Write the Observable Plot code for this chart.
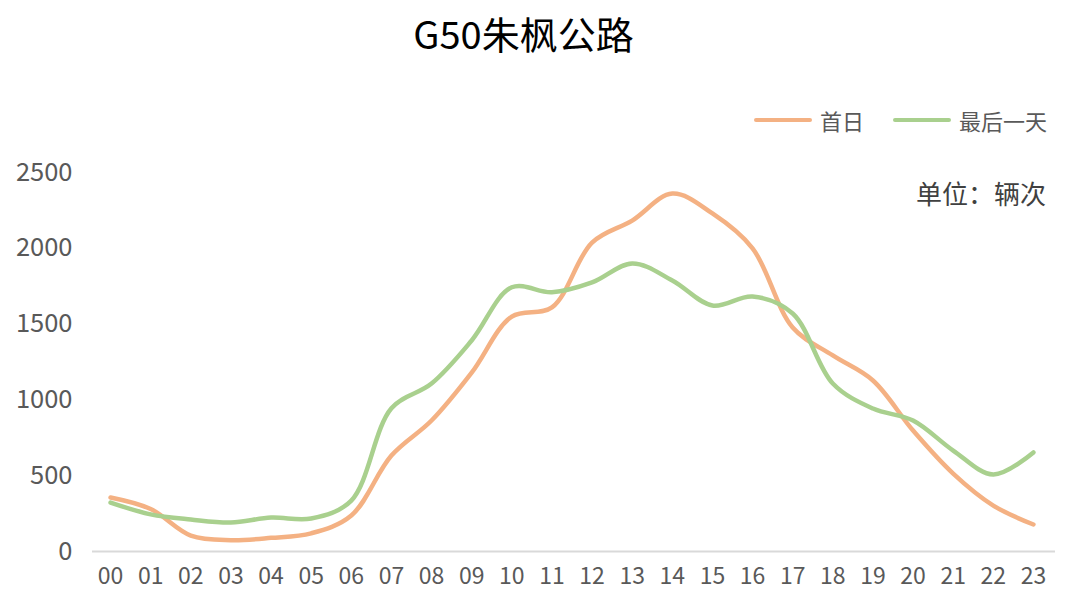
<!DOCTYPE html>
<html>
<head>
<meta charset="utf-8">
<script src="https://cdn.jsdelivr.net/npm/d3@7"></script>
<script src="https://cdn.jsdelivr.net/npm/@observablehq/plot@0.6"></script>
<style>
  html, body { margin: 0; padding: 0; background: #fff; }
  #wrap { position: relative; width: 1080px; height: 611px; font-family: "Noto Sans CJK SC", "Noto Sans", sans-serif; }
  #title { position: absolute; left: 0; width: 1047px; top: 7px; text-align: center; font-size: 38px; color: #000; line-height: 52px; }
  .leg { position: absolute; top: 106px; height: 28px; display: flex; align-items: center; font-size: 22px; color: #595959; }
  .leg .sw { width: 58px; height: 4px; border-radius: 2px; margin-right: 8px; }
  #unit { position: absolute; right: 34px; top: 175px; font-size: 26px; color: #404040; line-height: 36px; }
</style>
</head>
<body>
<div id="wrap">
  <div id="title">G50朱枫公路</div>
  <div class="leg" style="left:754px"><div class="sw" style="background:#F4B183"></div><span>首日</span></div>
  <div class="leg" style="left:893px"><div class="sw" style="background:#A9D08E"></div><span>最后一天</span></div>
  <div id="unit">单位：辆次</div>
  <div id="chart"></div>
</div>
<script>
const hours = ["00","01","02","03","04","05","06","07","08","09","10","11","12","13","14","15","16","17","18","19","20","21","22","23"];
const seriesNames = ["首日", "最后一天"];
const firstDay = [356, 280, 105, 75, 90, 120, 237, 633, 864, 1180, 1550, 1610, 2038, 2183, 2361, 2230, 2000, 1478, 1293, 1128, 798, 514, 303, 178];
const lastDay = [323, 245, 211, 191, 224, 218, 336, 945, 1108, 1392, 1743, 1710, 1775, 1900, 1788, 1623, 1682, 1570, 1108, 943, 864, 666, 508, 653];
const yTicks = [0, 500, 1000, 1500, 2000, 2500];
const colors = ["#F4B183", "#A9D08E"];

const rows = [];
[firstDay, lastDay].forEach((vals, s) => {
  vals.forEach((v, i) => rows.push({i, value: v, series: seriesNames[s]}));
});

const chart = Plot.plot({
  width: 1080,
  height: 611,
  marginTop: 172,
  marginBottom: 60,
  marginLeft: 92,
  marginRight: 25,
  style: {fontFamily: '"Noto Sans CJK SC", "Noto Sans", sans-serif', fontSize: "23px", color: "#595959", background: "transparent"},
  x: {type: "linear", domain: [-0.45, 23.55], label: null},
  y: {domain: [0, 2500], label: null},
  color: {domain: seriesNames, range: colors},
  marks: [
    Plot.axisX({ticks: hours.map((_, i) => i), tickFormat: i => hours[i], tickSize: 0, tickPadding: 16, fontSize: 23, label: null}),
    Plot.axisY({ticks: yTicks, tickFormat: d => String(d), tickSize: 0, tickPadding: 20, fontSize: 25.5, label: null}),
    Plot.ruleY([0], {stroke: "#d9d9d9", strokeWidth: 2}),
    Plot.line(rows, {x: "i", y: "value", z: "series", stroke: "series", strokeWidth: 4.5, curve: "catmull-rom", strokeLinecap: "round"})
  ]
});
document.getElementById("chart").appendChild(chart);
</script>
</body>
</html>
